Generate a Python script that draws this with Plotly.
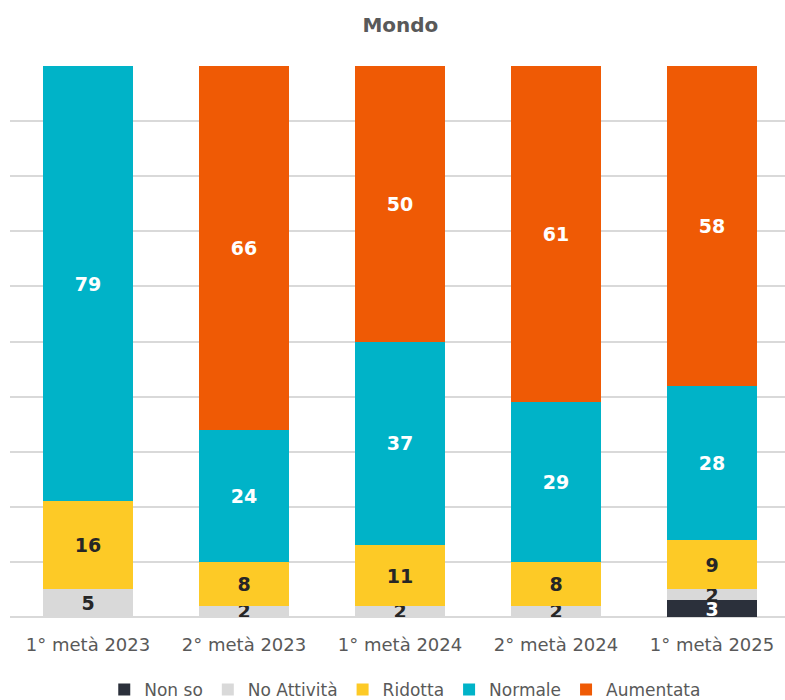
import plotly.graph_objects as go

categories = ["1° metà 2023", "2° metà 2023", "1° metà 2024", "2° metà 2024", "1° metà 2025"]

non_so = [0, 0, 0, 0, 3]
no_attivita = [5, 2, 2, 2, 2]
ridotta = [16, 8, 11, 8, 9]
normale = [79, 24, 37, 29, 28]
aumentata = [0, 66, 50, 61, 58]

series = [
    ("Non so", non_so, "#2B303B", "white"),
    ("No Attività", no_attivita, "#D9D9D9", "#262626"),
    ("Ridotta", ridotta, "#FDCA26", "#262626"),
    ("Normale", normale, "#00B3C8", "white"),
    ("Aumentata", aumentata, "#EF5A05", "white"),
]


def label_text(values):
    return [str(v) if v else "" for v in values]


fig = go.Figure()

for name, values, color, text_color in series:
    fig.add_trace(go.Bar(
        x=categories,
        y=values,
        name=name,
        marker=dict(color=color, line=dict(width=0)),
        text=label_text(values),
        textposition="inside",
        insidetextanchor="middle",
        constraintext="none",
        textangle=0,
        textfont=dict(family="DejaVu Sans", size=19, color=text_color, weight="bold"),
    ))

fig.update_layout(
    barmode="stack",
    bargap=0.423,
    width=785,
    height=700,
    margin=dict(l=10, r=0, t=66, b=83),
    plot_bgcolor="white",
    paper_bgcolor="white",
    font=dict(family="DejaVu Sans", color="#595959"),
    title=dict(
        text="<b>Mondo</b>",
        x=0.51,
        xanchor="center",
        y=1 - 25 / 700,
        yanchor="middle",
        font=dict(size=20, color="#595959"),
    ),
    xaxis=dict(
        range=[-0.5, 4.468],
        showgrid=False,
        ticks="",
        tickfont=dict(size=18, color="#595959"),
        ticklabelstandoff=15,
    ),
    yaxis=dict(
        range=[0, 100],
        dtick=10,
        showticklabels=False,
        gridcolor="#D9D9D9",
        gridwidth=1.5,
        zeroline=True,
        zerolinecolor="#D9D9D9",
        zerolinewidth=1.5,
    ),
    legend=dict(
        orientation="h",
        x=0.51,
        xanchor="center",
        yref="container",
        y=10 / 700,
        yanchor="middle",
        font=dict(size=17, color="#595959"),
        traceorder="normal",
    ),
)

# drop the default page margin so the figure sits at the window's corner
fig.write_html(
    "out.html",
    config={"displayModeBar": False},
    post_script="document.body.style.margin = '0';",
)
